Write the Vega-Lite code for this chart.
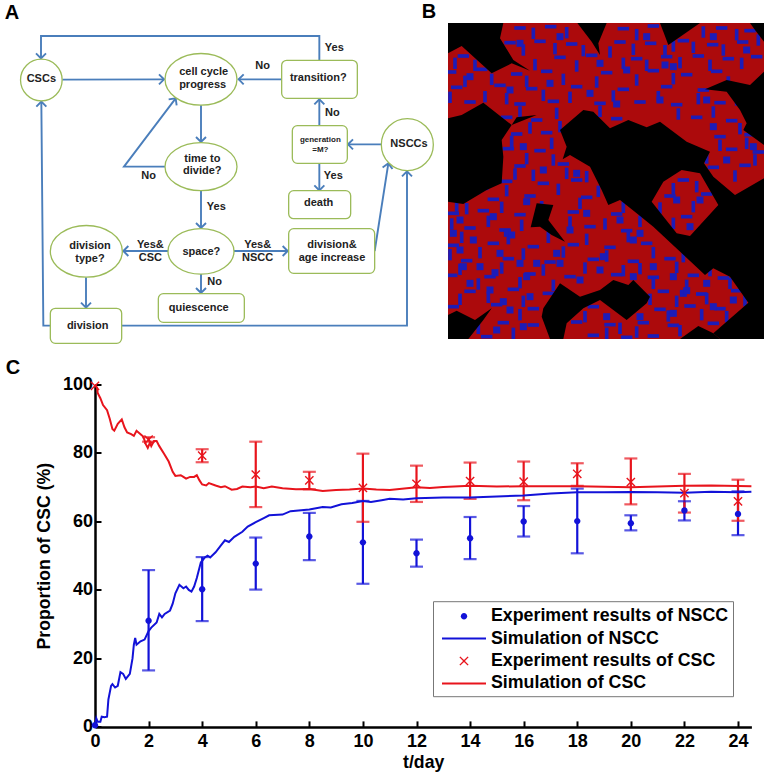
{"$schema":"https://vega.github.io/schema/vega-lite/v6.json","padding":0,"background":"white","config":{"view":{"stroke":null},"font":"Liberation Sans"},"spacing":12.5,"vconcat":[{"bounds":"flush","spacing":0,"hconcat":[{"width":448,"height":345,"encoding":{"x":{"field":"x","type":"quantitative","axis":null,"scale":{"domain":[0,1344],"nice":false,"zero":false}},"y":{"field":"y","type":"quantitative","axis":null,"scale":{"domain":[1035,0],"nice":false,"zero":false}}},"layer":[{"data":{"values":[{"e":1,"i":0,"x":958,"y":181},{"e":1,"i":1,"x":958,"y":108},{"e":1,"i":2,"x":123,"y":108},{"e":1,"i":3,"x":123,"y":175},{"e":2,"i":0,"x":187,"y":239},{"e":2,"i":1,"x":492,"y":238},{"e":3,"i":0,"x":845,"y":238},{"e":3,"i":1,"x":716,"y":238},{"e":4,"i":0,"x":958,"y":377},{"e":4,"i":1,"x":958,"y":298},{"e":5,"i":0,"x":1144,"y":433},{"e":5,"i":1,"x":1044,"y":433},{"e":6,"i":0,"x":958,"y":490},{"e":6,"i":1,"x":958,"y":571},{"e":7,"i":0,"x":603,"y":315},{"e":7,"i":1,"x":603,"y":426},{"e":8,"i":0,"x":495,"y":500},{"e":8,"i":1,"x":372,"y":500},{"e":8,"i":2,"x":527,"y":295},{"e":9,"i":0,"x":603,"y":573},{"e":9,"i":1,"x":603,"y":684},{"e":10,"i":0,"x":505,"y":753},{"e":10,"i":1,"x":370,"y":753},{"e":11,"i":0,"x":702,"y":753},{"e":11,"i":1,"x":863,"y":753},{"e":12,"i":0,"x":603,"y":822},{"e":12,"i":1,"x":603,"y":879},{"e":13,"i":0,"x":258,"y":832},{"e":13,"i":1,"x":258,"y":923},{"e":14,"i":0,"x":151,"y":977},{"e":14,"i":1,"x":130,"y":977},{"e":14,"i":2,"x":124,"y":305},{"e":15,"i":0,"x":365,"y":977},{"e":15,"i":1,"x":1221,"y":977},{"e":15,"i":2,"x":1221,"y":514},{"e":16,"i":0,"x":1124,"y":753},{"e":16,"i":1,"x":1165,"y":490}]},"mark":{"type":"line","color":"#4A7EBB","strokeWidth":1.9,"clip":false},"encoding":{"detail":{"field":"e"},"order":{"field":"i"}}},{"data":{"values":[{"x":123,"y":175,"dir":180},{"x":492,"y":238,"dir":90},{"x":716,"y":238,"dir":270},{"x":958,"y":298,"dir":0},{"x":1044,"y":433,"dir":270},{"x":958,"y":571,"dir":180},{"x":603,"y":426,"dir":180},{"x":527,"y":295,"dir":37},{"x":603,"y":684,"dir":180},{"x":370,"y":753,"dir":270},{"x":863,"y":753,"dir":90},{"x":603,"y":879,"dir":180},{"x":258,"y":923,"dir":180},{"x":124,"y":305,"dir":0},{"x":1221,"y":514,"dir":0},{"x":1165,"y":490,"dir":9}]},"mark":{"type":"point","filled":false,"shape":"M-1,1L0,0L1,1","size":100,"stroke":"#4A7EBB","strokeWidth":1.9,"opacity":1},"encoding":{"angle":{"field":"dir","type":"quantitative","scale":null}}},{"data":{"values":[{"x":845,"x2":1072,"y":181,"y2":295},{"x":877,"x2":1042,"y":377,"y2":490},{"x":866,"x2":1052,"y":572,"y2":656},{"x":866,"x2":1124,"y":686,"y2":820},{"x":475,"x2":733,"y":881,"y2":967},{"x":151,"x2":365,"y":925,"y2":1030}]},"mark":{"type":"rect","fill":"white","stroke":"#9BBB59","strokeWidth":1.3,"cornerRadius":5},"encoding":{"x2":{"field":"x2"},"y2":{"field":"y2"}}},{"data":{"values":[{"x":124,"y":240}]},"mark":{"type":"point","filled":true,"fill":"white","stroke":"#9BBB59","strokeWidth":1.3,"opacity":1,"shape":"M-1,0A1,1 0 1,1 1,0A1,1 0 1,1 -1,0Z","size":1731}},{"data":{"values":[{"x":1222,"y":434}]},"mark":{"type":"point","filled":true,"fill":"white","stroke":"#9BBB59","strokeWidth":1.3,"opacity":1,"shape":"M-1,0A1,1 0 1,1 1,0A1,1 0 1,1 -1,0Z","size":2704}},{"data":{"values":[{"x":603,"y":238},{"x":259,"y":754}]},"mark":{"type":"point","filled":true,"fill":"white","stroke":"#9BBB59","strokeWidth":1.3,"opacity":1,"shape":"M-1,0A1,.718 0 1,1 1,0A1,.718 0 1,1 -1,0Z","size":5184}},{"data":{"values":[{"x":603,"y":500}]},"mark":{"type":"point","filled":true,"fill":"white","stroke":"#9BBB59","strokeWidth":1.3,"opacity":1,"shape":"M-1,0A1,.667 0 1,1 1,0A1,.667 0 1,1 -1,0Z","size":5184}},{"data":{"values":[{"x":603,"y":754}]},"mark":{"type":"point","filled":true,"fill":"white","stroke":"#9BBB59","strokeWidth":1.3,"opacity":1,"shape":"M-1,0A1,.69 0 1,1 1,0A1,.69 0 1,1 -1,0Z","size":4356}},{"data":{"values":[{"x":124,"y":236,"t":"CSCs"},{"x":611,"y":216,"t":"cell cycle"},{"x":608,"y":256,"t":"progress"},{"x":788,"y":198,"t":"No"},{"x":1003,"y":143,"t":"Yes"},{"x":955,"y":234,"t":"transition?"},{"x":997,"y":340,"t":"No"},{"x":1227,"y":433,"t":"NSCCs"},{"x":1000,"y":528,"t":"Yes"},{"x":956,"y":610,"t":"death"},{"x":607,"y":476,"t":"time to"},{"x":607,"y":514,"t":"divide?"},{"x":446,"y":527,"t":"No"},{"x":649,"y":620,"t":"Yes"},{"x":451,"y":735,"t":"Yes&"},{"x":451,"y":774,"t":"CSC"},{"x":773,"y":735,"t":"Yes&"},{"x":773,"y":774,"t":"NSCC"},{"x":604,"y":756,"t":"space?"},{"x":270,"y":737,"t":"division"},{"x":270,"y":776,"t":"type?"},{"x":996,"y":735,"t":"division&"},{"x":996,"y":775,"t":"age increase"},{"x":644,"y":847,"t":"No"},{"x":596,"y":923,"t":"quiescence"},{"x":263,"y":977,"t":"division"}]},"mark":{"type":"text","font":"Liberation Sans","fontWeight":"bold","fontSize":11,"color":"#222222"},"encoding":{"text":{"field":"t"}}},{"data":{"values":[{"x":961,"y":420,"t":"generation"},{"x":961,"y":449,"t":"=M?"}]},"mark":{"type":"text","font":"Liberation Sans","fontWeight":"bold","fontSize":8,"color":"#222222"},"encoding":{"text":{"field":"t"}}},{"data":{"values":[{"x":36,"y":39,"t":"A"}]},"mark":{"type":"text","font":"Liberation Sans","fontWeight":"bold","fontSize":20,"color":"#000000"},"encoding":{"text":{"field":"t"}}}]},{"bounds":"flush","spacing":0,"vconcat":[{"width":316,"height":23,"data":{"values":[{"x":429,"y":12,"t":"B"}]},"mark":{"type":"text","font":"Liberation Sans","fontWeight":"bold","fontSize":20,"color":"#000000","clip":false},"encoding":{"x":{"field":"x","type":"quantitative","axis":null,"scale":{"domain":[448,764],"nice":false,"zero":false}},"y":{"field":"y","type":"quantitative","axis":null,"scale":{"domain":[23,0],"nice":false,"zero":false}},"text":{"field":"t"}}},{"width":316,"height":316,"projection":{"type":"identity"},"layer":[{"data":{"values":[{"type":"Feature","properties":{},"geometry":{"type":"Polygon","coordinates":[[[84,69],[1032,69],[1032,1017],[84,1017],[84,69]]]}}]},"mark":{"type":"geoshape","fill":"#AC0A0C","stroke":null}},{"data":{"values":[{"x":96,"y":82},{"x":300,"y":84},{"x":392,"y":80},{"x":610,"y":86},{"x":700,"y":78},{"x":905,"y":84},{"x":990,"y":92},{"x":270,"y":128},{"x":360,"y":124},{"x":455,"y":132},{"x":600,"y":126},{"x":692,"y":130},{"x":790,"y":122},{"x":878,"y":134},{"x":968,"y":126},{"x":130,"y":168},{"x":420,"y":172},{"x":515,"y":166},{"x":650,"y":176},{"x":740,"y":170},{"x":835,"y":168},{"x":925,"y":176},{"x":1010,"y":170},{"x":92,"y":216},{"x":185,"y":208},{"x":290,"y":222},{"x":380,"y":214},{"x":560,"y":218},{"x":700,"y":212},{"x":800,"y":224},{"x":890,"y":214},{"x":110,"y":262},{"x":240,"y":256},{"x":335,"y":266},{"x":470,"y":260},{"x":610,"y":268},{"x":740,"y":260},{"x":850,"y":270},{"x":150,"y":306},{"x":300,"y":312},{"x":400,"y":304},{"x":540,"y":310},{"x":660,"y":306},{"x":770,"y":314},{"x":900,"y":308},{"x":260,"y":352},{"x":350,"y":360},{"x":590,"y":356},{"x":830,"y":352},{"x":935,"y":362},{"x":290,"y":402},{"x":380,"y":398},{"x":900,"y":410},{"x":990,"y":404},{"x":265,"y":446},{"x":360,"y":452},{"x":935,"y":448},{"x":1015,"y":456},{"x":300,"y":498},{"x":430,"y":492},{"x":880,"y":502},{"x":975,"y":496},{"x":790,"y":540},{"x":260,"y":544},{"x":370,"y":550},{"x":470,"y":540},{"x":750,"y":588},{"x":860,"y":582},{"x":130,"y":590},{"x":220,"y":598},{"x":330,"y":588},{"x":500,"y":592},{"x":100,"y":640},{"x":190,"y":632},{"x":300,"y":644},{"x":460,"y":636},{"x":590,"y":642},{"x":800,"y":650},{"x":150,"y":684},{"x":255,"y":690},{"x":510,"y":680},{"x":620,"y":692},{"x":100,"y":736},{"x":220,"y":730},{"x":340,"y":740},{"x":460,"y":734},{"x":570,"y":742},{"x":680,"y":730},{"x":140,"y":782},{"x":265,"y":776},{"x":390,"y":786},{"x":520,"y":778},{"x":640,"y":784},{"x":750,"y":776},{"x":95,"y":826},{"x":210,"y":830},{"x":330,"y":822},{"x":450,"y":830},{"x":590,"y":824},{"x":700,"y":832},{"x":820,"y":826},{"x":910,"y":834},{"x":150,"y":874},{"x":280,"y":868},{"x":385,"y":880},{"x":730,"y":874},{"x":845,"y":882},{"x":950,"y":872},{"x":100,"y":920},{"x":230,"y":914},{"x":340,"y":926},{"x":520,"y":920},{"x":720,"y":928},{"x":810,"y":918},{"x":900,"y":926},{"x":250,"y":968},{"x":340,"y":975},{"x":470,"y":966},{"x":570,"y":974},{"x":670,"y":968},{"x":760,"y":976},{"x":880,"y":970},{"x":200,"y":1010},{"x":520,"y":1006},{"x":620,"y":1012},{"x":700,"y":1008}]},"mark":{"type":"point","filled":true,"fill":"#1C1CB8","stroke":null,"opacity":1,"clip":true,"shape":"M-1,-.32H1V.32H-1Z","size":130},"encoding":{"longitude":{"field":"x","type":"quantitative"},"latitude":{"field":"y","type":"quantitative"}}},{"data":{"values":[{"x":340,"y":100},{"x":440,"y":98},{"x":650,"y":104},{"x":760,"y":138},{"x":850,"y":96},{"x":950,"y":104},{"x":1015,"y":120},{"x":310,"y":150},{"x":405,"y":146},{"x":490,"y":152},{"x":570,"y":156},{"x":640,"y":148},{"x":735,"y":152},{"x":820,"y":142},{"x":910,"y":150},{"x":105,"y":190},{"x":165,"y":196},{"x":345,"y":194},{"x":470,"y":198},{"x":610,"y":190},{"x":680,"y":196},{"x":780,"y":188},{"x":870,"y":196},{"x":965,"y":190},{"x":135,"y":244},{"x":215,"y":238},{"x":320,"y":244},{"x":430,"y":238},{"x":530,"y":246},{"x":650,"y":240},{"x":760,"y":236},{"x":925,"y":246},{"x":90,"y":292},{"x":195,"y":290},{"x":260,"y":296},{"x":370,"y":286},{"x":450,"y":292},{"x":580,"y":288},{"x":715,"y":290},{"x":835,"y":296},{"x":950,"y":300},{"x":300,"y":336},{"x":410,"y":340},{"x":540,"y":334},{"x":775,"y":342},{"x":880,"y":336},{"x":330,"y":384},{"x":420,"y":380},{"x":960,"y":386},{"x":1020,"y":392},{"x":275,"y":424},{"x":395,"y":430},{"x":900,"y":436},{"x":980,"y":430},{"x":320,"y":476},{"x":400,"y":480},{"x":860,"y":474},{"x":1005,"y":480},{"x":945,"y":528},{"x":285,"y":522},{"x":340,"y":526},{"x":440,"y":520},{"x":500,"y":530},{"x":760,"y":566},{"x":830,"y":560},{"x":110,"y":618},{"x":175,"y":566},{"x":260,"y":572},{"x":415,"y":568},{"x":535,"y":574},{"x":720,"y":624},{"x":820,"y":620},{"x":140,"y":626},{"x":245,"y":622},{"x":365,"y":620},{"x":480,"y":610},{"x":610,"y":622},{"x":760,"y":670},{"x":95,"y":672},{"x":205,"y":664},{"x":305,"y":676},{"x":450,"y":666},{"x":555,"y":672},{"x":660,"y":664},{"x":125,"y":712},{"x":265,"y":716},{"x":385,"y":712},{"x":500,"y":718},{"x":625,"y":710},{"x":90,"y":764},{"x":180,"y":758},{"x":310,"y":762},{"x":430,"y":756},{"x":560,"y":768},{"x":700,"y":758},{"x":790,"y":770},{"x":120,"y":808},{"x":245,"y":804},{"x":370,"y":810},{"x":495,"y":804},{"x":610,"y":812},{"x":660,"y":806},{"x":770,"y":802},{"x":870,"y":812},{"x":175,"y":852},{"x":300,"y":848},{"x":400,"y":856},{"x":700,"y":850},{"x":800,"y":856},{"x":930,"y":850},{"x":120,"y":898},{"x":205,"y":892},{"x":310,"y":904},{"x":690,"y":898},{"x":770,"y":904},{"x":860,"y":896},{"x":975,"y":902},{"x":175,"y":985},{"x":300,"y":944},{"x":495,"y":950},{"x":600,"y":985},{"x":745,"y":948},{"x":845,"y":944},{"x":920,"y":950},{"x":280,"y":1000},{"x":410,"y":1000},{"x":560,"y":1000},{"x":650,"y":996},{"x":780,"y":992}]},"mark":{"type":"point","filled":true,"fill":"#1C1CB8","stroke":null,"opacity":1,"clip":true,"shape":"M-.32,-1H.32V1H-.32Z","size":130},"encoding":{"longitude":{"field":"x","type":"quantitative"},"latitude":{"field":"y","type":"quantitative"}}},{"data":{"values":[{"x":262,"y":700},{"x":275,"y":705},{"x":225,"y":818},{"x":320,"y":830},{"x":790,"y":880},{"x":800,"y":872},{"x":735,"y":195},{"x":590,"y":312},{"x":250,"y":905},{"x":120,"y":750},{"x":195,"y":560},{"x":320,"y":605},{"x":450,"y":690},{"x":550,"y":770},{"x":640,"y":720},{"x":700,"y":800},{"x":150,"y":850},{"x":350,"y":790},{"x":480,"y":840},{"x":600,"y":860},{"x":300,"y":130},{"x":420,"y":110},{"x":540,"y":190},{"x":680,"y":110},{"x":760,"y":200},{"x":880,"y":110},{"x":980,"y":150},{"x":150,"y":230},{"x":270,"y":270},{"x":390,"y":250},{"x":510,"y":280},{"x":620,"y":210},{"x":720,"y":300},{"x":860,"y":300},{"x":880,"y":380},{"x":310,"y":440},{"x":370,"y":510},{"x":470,"y":520},{"x":920,"y":480},{"x":1000,"y":440},{"x":770,"y":600},{"x":810,"y":680},{"x":840,"y":600},{"x":120,"y":660},{"x":220,"y":650},{"x":410,"y":760},{"x":500,"y":640},{"x":600,"y":660},{"x":660,"y":700},{"x":180,"y":800},{"x":300,"y":790},{"x":420,"y":790},{"x":540,"y":810},{"x":640,"y":830},{"x":760,"y":830},{"x":860,"y":850},{"x":880,"y":920},{"x":940,"y":900},{"x":760,"y":940},{"x":660,"y":950},{"x":560,"y":950},{"x":210,"y":870},{"x":330,"y":890},{"x":270,"y":930},{"x":310,"y":980},{"x":230,"y":990},{"x":130,"y":800},{"x":100,"y":700},{"x":160,"y":720},{"x":240,"y":760}]},"mark":{"type":"point","filled":true,"fill":"#1C1CB8","stroke":null,"opacity":1,"clip":true,"shape":"M-1,-1H1V1H-1Z","size":49},"encoding":{"longitude":{"field":"x","type":"quantitative"},"latitude":{"field":"y","type":"quantitative"}}},{"data":{"values":[{"type":"Feature","properties":{"n":"topleft"},"geometry":{"type":"Polygon","coordinates":[[[84,69],[250,69],[240,115],[280,180],[330,212],[275,190],[215,220],[125,138],[84,160],[84,69]]]}},{"type":"Feature","properties":{"n":"topmid"},"geometry":{"type":"Polygon","coordinates":[[[472,69],[560,69],[535,130],[540,165],[515,125],[472,69]]]}},{"type":"Feature","properties":{"n":"top"},"geometry":{"type":"Polygon","coordinates":[[[720,69],[840,69],[745,135],[720,69]]]}},{"type":"Feature","properties":{"n":"corner"},"geometry":{"type":"Polygon","coordinates":[[[990,69],[1032,69],[1032,125],[1005,90],[990,69]]]}},{"type":"Feature","properties":{"n":"right"},"geometry":{"type":"Polygon","coordinates":[[[1032,215],[990,255],[920,240],[855,268],[920,275],[960,330],[980,370],[970,390],[1032,435],[1032,215]]]}},{"type":"Feature","properties":{"n":"left"},"geometry":{"type":"Polygon","coordinates":[[[84,355],[125,345],[190,308],[275,375],[350,345],[290,352],[275,375],[245,420],[250,470],[245,550],[200,570],[130,612],[84,605],[84,355]]]}},{"type":"Feature","properties":{"n":"centre"},"geometry":{"type":"Polygon","coordinates":[[[420,390],[490,330],[520,335],[570,385],[625,360],[680,382],[720,365],[800,425],[870,455],[852,490],[880,530],[945,585],[1032,535],[1032,1017],[900,1017],[880,1000],[985,908],[930,830],[880,805],[855,825],[700,680],[650,640],[600,600],[565,615],[545,570],[510,500],[450,465],[428,478],[440,440],[420,390]],[[785,510],[730,545],[695,605],[770,700],[810,708],[895,615],[840,520],[785,510]]]}},{"type":"Feature","properties":{"n":"bottomright"},"geometry":{"type":"Polygon","coordinates":[[[780,1017],[835,978],[880,1000],[900,1017],[780,1017]]]}},{"type":"Feature","properties":{"n":"small"},"geometry":{"type":"Polygon","coordinates":[[[350,610],[400,615],[385,660],[435,725],[395,705],[360,680],[332,682],[350,610]]]}},{"type":"Feature","properties":{"n":"bottom"},"geometry":{"type":"Polygon","coordinates":[[[420,850],[480,890],[540,870],[580,840],[625,855],[640,840],[690,890],[680,910],[620,960],[540,900],[490,925],[440,970],[430,1017],[390,1017],[365,950],[370,925],[420,850]]]}},{"type":"Feature","properties":{"n":"bottomleft"},"geometry":{"type":"Polygon","coordinates":[[[84,945],[110,932],[165,960],[215,925],[190,960],[145,1017],[84,1017],[84,945]]]}}]},"mark":{"type":"geoshape","fill":"#000000","stroke":null}}]}]}]},{"bounds":"flush","spacing":0,"hconcat":[{"width":94.3,"height":342.4,"data":{"values":[{"x":13,"y":367,"t":"C"}]},"mark":{"type":"text","font":"Liberation Sans","fontWeight":"bold","fontSize":20,"color":"#000000","clip":false},"encoding":{"x":{"field":"x","type":"quantitative","axis":null,"scale":{"domain":[0,94.3],"nice":false,"zero":false}},"y":{"field":"y","type":"quantitative","axis":null,"scale":{"domain":[725.7,383.3],"nice":false,"zero":false}},"text":{"field":"t"}}},{"width":656.4,"height":342.4,"encoding":{"x":{"field":"t","type":"quantitative","title":"t/day","scale":{"domain":[0,24.5],"nice":false,"zero":false},"axis":{"values":[0,2,4,6,8,10,12,14,16,18,20,22,24],"grid":false,"domainColor":"#000000","domainWidth":2.5,"tickColor":"#000000","tickWidth":2,"tickSize":-6,"labelFont":"Liberation Sans","labelFontWeight":"bold","labelFontSize":18,"labelColor":"#000000","labelPadding":12,"labelOverlap":false,"labelFlush":false,"titleFont":"Liberation Sans","titleFontWeight":"bold","titleFontSize":17.7,"titleColor":"#000000","titlePadding":3}}},"layer":[{"data":{"values":[{"t":2,"lo":16.5,"hi":45.8,"s":"NSCC"},{"t":4,"lo":30.9,"hi":49.6,"s":"NSCC"},{"t":6,"lo":40.1,"hi":55.3,"s":"NSCC"},{"t":8,"lo":48.7,"hi":62.5,"s":"NSCC"},{"t":10,"lo":41.8,"hi":66,"s":"NSCC"},{"t":12,"lo":46.8,"hi":54.7,"s":"NSCC"},{"t":14,"lo":49,"hi":61.3,"s":"NSCC"},{"t":16,"lo":55.6,"hi":64.5,"s":"NSCC"},{"t":18,"lo":50.7,"hi":69.6,"s":"NSCC"},{"t":20,"lo":57.4,"hi":61.8,"s":"NSCC"},{"t":22,"lo":60.3,"hi":65.9,"s":"NSCC"},{"t":24,"lo":56,"hi":68.8,"s":"NSCC"},{"t":2,"lo":83.3,"hi":84.6,"s":"CSC"},{"t":4,"lo":77.3,"hi":81.1,"s":"CSC"},{"t":6,"lo":64.2,"hi":83.3,"s":"CSC"},{"t":8,"lo":69.4,"hi":74.5,"s":"CSC"},{"t":10,"lo":59.9,"hi":79.8,"s":"CSC"},{"t":12,"lo":65.7,"hi":76.3,"s":"CSC"},{"t":14,"lo":66.6,"hi":77.2,"s":"CSC"},{"t":16,"lo":66.2,"hi":77.5,"s":"CSC"},{"t":18,"lo":70.4,"hi":77,"s":"CSC"},{"t":20,"lo":65,"hi":78.4,"s":"CSC"},{"t":22,"lo":62.6,"hi":73.9,"s":"CSC"},{"t":24,"lo":60.2,"hi":72.2,"s":"CSC"}]},"encoding":{"color":{"field":"s","type":"nominal","scale":{"domain":["NSCC","CSC"],"range":["#1212D8","#E8141C"]},"legend":null}},"layer":[{"mark":{"type":"rule","strokeWidth":2.2},"encoding":{"y":{"field":"lo","type":"quantitative","title":"Proportion of CSC (%)","scale":{"domain":[0,100],"nice":false,"zero":false},"axis":{"values":[0,20,40,60,80,100],"grid":false,"domainColor":"#000000","domainWidth":2.5,"tickColor":"#000000","tickWidth":2,"tickSize":-6,"labelFont":"Liberation Sans","labelFontWeight":"bold","labelFontSize":18,"labelColor":"#000000","labelPadding":8.5,"labelFlush":false,"titleFont":"Liberation Sans","titleFontWeight":"bold","titleFontSize":17.7,"titleColor":"#000000","titlePadding":9}},"y2":{"field":"hi"}}},{"mark":{"type":"tick","orient":"horizontal","size":13,"thickness":2.2},"encoding":{"y":{"field":"lo","type":"quantitative","title":"Proportion of CSC (%)","scale":{"domain":[0,100],"nice":false,"zero":false}}}},{"mark":{"type":"tick","orient":"horizontal","size":13,"thickness":2.2},"encoding":{"y":{"field":"hi","type":"quantitative","title":"Proportion of CSC (%)","scale":{"domain":[0,100],"nice":false,"zero":false}}}}]},{"data":{"values":[{"s":"Simulation of NSCC","t":0,"v":0.5},{"s":"Simulation of NSCC","t":0.05,"v":2.5},{"s":"Simulation of NSCC","t":0.1,"v":1.5},{"s":"Simulation of NSCC","t":0.2,"v":1.5},{"s":"Simulation of NSCC","t":0.25,"v":3},{"s":"Simulation of NSCC","t":0.35,"v":2.8},{"s":"Simulation of NSCC","t":0.45,"v":3},{"s":"Simulation of NSCC","t":0.5,"v":8},{"s":"Simulation of NSCC","t":0.6,"v":12},{"s":"Simulation of NSCC","t":0.65,"v":12.5},{"s":"Simulation of NSCC","t":0.75,"v":11.5},{"s":"Simulation of NSCC","t":0.85,"v":12},{"s":"Simulation of NSCC","t":0.95,"v":16},{"s":"Simulation of NSCC","t":1.05,"v":15.5},{"s":"Simulation of NSCC","t":1.15,"v":14},{"s":"Simulation of NSCC","t":1.3,"v":15.5},{"s":"Simulation of NSCC","t":1.4,"v":20},{"s":"Simulation of NSCC","t":1.45,"v":24},{"s":"Simulation of NSCC","t":1.5,"v":26},{"s":"Simulation of NSCC","t":1.55,"v":24},{"s":"Simulation of NSCC","t":1.7,"v":25},{"s":"Simulation of NSCC","t":1.85,"v":25.5},{"s":"Simulation of NSCC","t":2,"v":28},{"s":"Simulation of NSCC","t":2.1,"v":29},{"s":"Simulation of NSCC","t":2.3,"v":30.5},{"s":"Simulation of NSCC","t":2.4,"v":33},{"s":"Simulation of NSCC","t":2.5,"v":32},{"s":"Simulation of NSCC","t":2.6,"v":33},{"s":"Simulation of NSCC","t":2.8,"v":34},{"s":"Simulation of NSCC","t":2.9,"v":36},{"s":"Simulation of NSCC","t":3,"v":39},{"s":"Simulation of NSCC","t":3.15,"v":41.5},{"s":"Simulation of NSCC","t":3.3,"v":40.5},{"s":"Simulation of NSCC","t":3.4,"v":41},{"s":"Simulation of NSCC","t":3.5,"v":40},{"s":"Simulation of NSCC","t":3.6,"v":39.5},{"s":"Simulation of NSCC","t":3.7,"v":41},{"s":"Simulation of NSCC","t":3.8,"v":43.5},{"s":"Simulation of NSCC","t":3.95,"v":48},{"s":"Simulation of NSCC","t":4.1,"v":49.5},{"s":"Simulation of NSCC","t":4.2,"v":50},{"s":"Simulation of NSCC","t":4.3,"v":49.5},{"s":"Simulation of NSCC","t":4.5,"v":51},{"s":"Simulation of NSCC","t":4.7,"v":53},{"s":"Simulation of NSCC","t":4.85,"v":54.5},{"s":"Simulation of NSCC","t":5,"v":54},{"s":"Simulation of NSCC","t":5.2,"v":55.5},{"s":"Simulation of NSCC","t":5.5,"v":57},{"s":"Simulation of NSCC","t":5.7,"v":58.5},{"s":"Simulation of NSCC","t":6,"v":59.8},{"s":"Simulation of NSCC","t":6.3,"v":61},{"s":"Simulation of NSCC","t":6.5,"v":61.8},{"s":"Simulation of NSCC","t":7,"v":62},{"s":"Simulation of NSCC","t":7.3,"v":63},{"s":"Simulation of NSCC","t":7.7,"v":63.3},{"s":"Simulation of NSCC","t":8,"v":63.5},{"s":"Simulation of NSCC","t":8.5,"v":64.2},{"s":"Simulation of NSCC","t":8.8,"v":64.1},{"s":"Simulation of NSCC","t":9.2,"v":65},{"s":"Simulation of NSCC","t":9.6,"v":65.4},{"s":"Simulation of NSCC","t":10,"v":66},{"s":"Simulation of NSCC","t":10.3,"v":65.7},{"s":"Simulation of NSCC","t":10.7,"v":66.2},{"s":"Simulation of NSCC","t":11,"v":66.6},{"s":"Simulation of NSCC","t":11.5,"v":66.4},{"s":"Simulation of NSCC","t":12,"v":66.8},{"s":"Simulation of NSCC","t":13,"v":67},{"s":"Simulation of NSCC","t":14,"v":67},{"s":"Simulation of NSCC","t":15,"v":67.3},{"s":"Simulation of NSCC","t":16,"v":67.6},{"s":"Simulation of NSCC","t":17,"v":68.2},{"s":"Simulation of NSCC","t":18,"v":68.5},{"s":"Simulation of NSCC","t":19,"v":68.5},{"s":"Simulation of NSCC","t":20,"v":68.6},{"s":"Simulation of NSCC","t":21,"v":68.5},{"s":"Simulation of NSCC","t":22,"v":68.4},{"s":"Simulation of NSCC","t":23,"v":68.7},{"s":"Simulation of NSCC","t":24,"v":68.5},{"s":"Simulation of NSCC","t":24.5,"v":68.7},{"s":"Simulation of CSC","t":0,"v":100},{"s":"Simulation of CSC","t":0.08,"v":99},{"s":"Simulation of CSC","t":0.1,"v":97.5},{"s":"Simulation of CSC","t":0.2,"v":96},{"s":"Simulation of CSC","t":0.3,"v":94},{"s":"Simulation of CSC","t":0.45,"v":92.5},{"s":"Simulation of CSC","t":0.55,"v":90},{"s":"Simulation of CSC","t":0.65,"v":87},{"s":"Simulation of CSC","t":0.72,"v":86.5},{"s":"Simulation of CSC","t":0.85,"v":88.5},{"s":"Simulation of CSC","t":1,"v":89.8},{"s":"Simulation of CSC","t":1.1,"v":87.5},{"s":"Simulation of CSC","t":1.2,"v":86},{"s":"Simulation of CSC","t":1.35,"v":85.5},{"s":"Simulation of CSC","t":1.45,"v":85},{"s":"Simulation of CSC","t":1.55,"v":86.5},{"s":"Simulation of CSC","t":1.7,"v":85.5},{"s":"Simulation of CSC","t":1.8,"v":84.8},{"s":"Simulation of CSC","t":1.9,"v":82.5},{"s":"Simulation of CSC","t":1.97,"v":81.5},{"s":"Simulation of CSC","t":2.05,"v":83},{"s":"Simulation of CSC","t":2.1,"v":82},{"s":"Simulation of CSC","t":2.2,"v":83.5},{"s":"Simulation of CSC","t":2.3,"v":83.5},{"s":"Simulation of CSC","t":2.4,"v":82},{"s":"Simulation of CSC","t":2.6,"v":79.5},{"s":"Simulation of CSC","t":2.75,"v":77.5},{"s":"Simulation of CSC","t":2.9,"v":74.5},{"s":"Simulation of CSC","t":3,"v":73.3},{"s":"Simulation of CSC","t":3.2,"v":73.5},{"s":"Simulation of CSC","t":3.3,"v":73},{"s":"Simulation of CSC","t":3.4,"v":72.5},{"s":"Simulation of CSC","t":3.55,"v":73},{"s":"Simulation of CSC","t":3.7,"v":73},{"s":"Simulation of CSC","t":3.8,"v":73.5},{"s":"Simulation of CSC","t":3.9,"v":72},{"s":"Simulation of CSC","t":4,"v":70.8},{"s":"Simulation of CSC","t":4.15,"v":70.5},{"s":"Simulation of CSC","t":4.25,"v":71.2},{"s":"Simulation of CSC","t":4.5,"v":70.5},{"s":"Simulation of CSC","t":4.7,"v":70},{"s":"Simulation of CSC","t":4.85,"v":70.3},{"s":"Simulation of CSC","t":5.1,"v":69.3},{"s":"Simulation of CSC","t":5.3,"v":69.5},{"s":"Simulation of CSC","t":5.5,"v":70.2},{"s":"Simulation of CSC","t":5.8,"v":70},{"s":"Simulation of CSC","t":6,"v":70.2},{"s":"Simulation of CSC","t":6.3,"v":69.7},{"s":"Simulation of CSC","t":6.6,"v":70.2},{"s":"Simulation of CSC","t":7,"v":69.7},{"s":"Simulation of CSC","t":7.5,"v":69.4},{"s":"Simulation of CSC","t":8,"v":69.5},{"s":"Simulation of CSC","t":8.5,"v":68.9},{"s":"Simulation of CSC","t":9,"v":69.2},{"s":"Simulation of CSC","t":9.5,"v":69.3},{"s":"Simulation of CSC","t":10,"v":69.6},{"s":"Simulation of CSC","t":10.5,"v":69.3},{"s":"Simulation of CSC","t":11,"v":69.2},{"s":"Simulation of CSC","t":12,"v":70},{"s":"Simulation of CSC","t":12.5,"v":69.8},{"s":"Simulation of CSC","t":13,"v":70.1},{"s":"Simulation of CSC","t":14,"v":70.4},{"s":"Simulation of CSC","t":15,"v":70.2},{"s":"Simulation of CSC","t":16,"v":70.3},{"s":"Simulation of CSC","t":18,"v":70.3},{"s":"Simulation of CSC","t":20,"v":70},{"s":"Simulation of CSC","t":22,"v":70.4},{"s":"Simulation of CSC","t":23,"v":70.5},{"s":"Simulation of CSC","t":24.5,"v":70.3}]},"mark":{"type":"line","strokeWidth":2,"clip":false},"encoding":{"y":{"field":"v","type":"quantitative","title":"Proportion of CSC (%)","scale":{"domain":[0,100],"nice":false,"zero":false}},"color":{"field":"s","type":"nominal","scale":{"domain":["Simulation of NSCC","Simulation of CSC"],"range":["#1212D8","#E8141C"]},"legend":null}}},{"data":{"values":[{"s":"Experiment results of NSCC","t":0,"v":0.5},{"s":"Experiment results of NSCC","t":2,"v":31},{"s":"Experiment results of NSCC","t":4,"v":40.2},{"s":"Experiment results of NSCC","t":6,"v":47.7},{"s":"Experiment results of NSCC","t":8,"v":55.6},{"s":"Experiment results of NSCC","t":10,"v":53.9},{"s":"Experiment results of NSCC","t":12,"v":50.7},{"s":"Experiment results of NSCC","t":14,"v":55.1},{"s":"Experiment results of NSCC","t":16,"v":60},{"s":"Experiment results of NSCC","t":18,"v":60.1},{"s":"Experiment results of NSCC","t":20,"v":59.5},{"s":"Experiment results of NSCC","t":22,"v":63.2},{"s":"Experiment results of NSCC","t":24,"v":62.2},{"s":"Experiment results of CSC","t":0,"v":99.6},{"s":"Experiment results of CSC","t":2,"v":83.9},{"s":"Experiment results of CSC","t":4,"v":79.2},{"s":"Experiment results of CSC","t":6,"v":73.7},{"s":"Experiment results of CSC","t":8,"v":72},{"s":"Experiment results of CSC","t":10,"v":69.8},{"s":"Experiment results of CSC","t":12,"v":71},{"s":"Experiment results of CSC","t":14,"v":71.8},{"s":"Experiment results of CSC","t":16,"v":71.6},{"s":"Experiment results of CSC","t":18,"v":73.9},{"s":"Experiment results of CSC","t":20,"v":71.5},{"s":"Experiment results of CSC","t":22,"v":68.3},{"s":"Experiment results of CSC","t":24,"v":65.9}]},"mark":{"type":"point","filled":true,"size":484,"opacity":1,"clip":false},"encoding":{"y":{"field":"v","type":"quantitative","title":"Proportion of CSC (%)","scale":{"domain":[0,100],"nice":false,"zero":false}},"color":{"field":"s","type":"nominal","scale":{"domain":["Experiment results of NSCC","Simulation of NSCC","Experiment results of CSC","Simulation of CSC"],"range":["#1212D8","#1212D8","#E8141C","#E8141C"]},"legend":{"title":null,"orient":"none","legendX":338,"legendY":216.7,"padding":4,"fillColor":"white","strokeColor":"#777777","labelFont":"Liberation Sans","labelFontWeight":"bold","labelFontSize":17.8,"labelColor":"#000000","labelLimit":400,"symbolSize":484,"symbolStrokeWidth":0,"symbolOpacity":1,"rowPadding":2.4,"labelOffset":16,"symbolOffset":16}},"shape":{"field":"s","type":"nominal","legend":{"title":null,"orient":"none","legendX":338,"legendY":216.7,"padding":4,"fillColor":"white","strokeColor":"#777777","labelFont":"Liberation Sans","labelFontWeight":"bold","labelFontSize":17.8,"labelColor":"#000000","labelLimit":400,"symbolSize":484,"symbolStrokeWidth":0,"symbolOpacity":1,"rowPadding":2.4,"labelOffset":16,"symbolOffset":16},"scale":{"domain":["Experiment results of NSCC","Simulation of NSCC","Experiment results of CSC","Simulation of CSC"],"range":["M-.29,0A.29,.29 0 1,1 .29,0A.29,.29 0 1,1 -.29,0Z","M-2,-.09H2V.09H-2Z","M-.42,-.33L-.33,-.42L0,-.09L.33,-.42L.42,-.33L.09,0L.42,.33L.33,.42L0,.09L-.33,.42L-.42,.33L-.09,0Z","M-2,-.09H2V.09H-2Z"]}}}}],"resolve":{"scale":{"color":"independent","shape":"independent"}}}]}]}
